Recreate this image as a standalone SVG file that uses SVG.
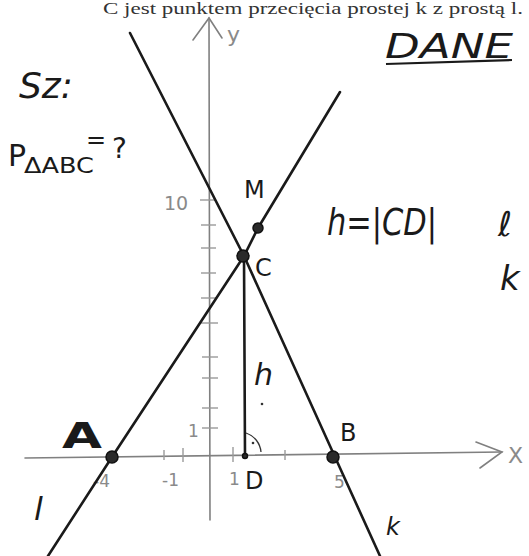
<svg xmlns="http://www.w3.org/2000/svg" width="529" height="556" viewBox="0 0 529 556">
<style>
.hand{font-family:"DejaVu Sans","Liberation Sans",sans-serif;fill:#1a1a1a}
.gray{font-family:"DejaVu Sans","Liberation Sans",sans-serif;fill:#8a8a8a}
.axis{stroke:#808080;stroke-width:1.6;fill:none;stroke-linecap:round}
.tick{stroke:#9a9a9a;stroke-width:1.4;fill:none}
.line{stroke:#1a1a1a;stroke-width:2.6;fill:none;stroke-linecap:round;stroke-linejoin:round}
.pt{fill:#2a2a2a;stroke:#111;stroke-width:1.5}
</style>
<rect width="529" height="556" fill="#ffffff"/>
<text x="103" y="14" font-family="Liberation Serif, serif" font-size="17" fill="#333" textLength="420" lengthAdjust="spacingAndGlyphs">C jest punktem przecięcia prostej k z prostą l.</text>

<g id="axes">
  <path class="axis" d="M25 458 L502 452"/>
  <path class="axis" d="M476 442 L502 452 L480 468"/>
  <path class="axis" d="M210 520 L209 18"/>
  <path class="axis" d="M193 40 L209 18 L222 38"/>
  <g class="tick">
    <path d="M200 200 H216"/><path d="M201 225 H216"/><path d="M201 248 H216"/><path d="M201 273 H216"/>
    <path d="M201 298 H217"/><path d="M201 323 H218"/><path d="M202 357 H218"/><path d="M202 378 H218"/>
    <path d="M202 408 H218"/><path d="M202 428 H218"/>
    <path d="M183 448 V462"/><path d="M164 450 V460"/><path d="M233 447 V462"/><path d="M285 450 V460"/>
  </g>
  <text class="gray" x="227" y="42" font-size="22">y</text>
  <text class="gray" x="508" y="463" font-size="22">X</text>
  <text class="gray" x="164" y="210" font-size="19">10</text>
  <text class="gray" x="188" y="437" font-size="17">1</text>
  <text class="gray" x="93" y="487" font-size="17">-4</text>
  <text class="gray" x="162" y="486" font-size="17">-1</text>
  <text class="gray" x="229" y="485" font-size="17">1</text>
  <text class="gray" x="334" y="488" font-size="17">5</text>
</g>

<g id="connectors">
  <path id="line-l" class="line" d="M48 556 L112 457 L244 256 L258 228 L340 92"/>
  <path id="line-k" class="line" d="M130 33 L244 256 L335 457 L380 556"/>
  <path id="seg-CD" class="line" d="M244 256 L245 457" stroke-width="2.2"/>
  <path id="right-angle" d="M246 433 A22 22 0 0 1 261 452" fill="none" stroke="#333" stroke-width="1.3"/>
  <circle cx="253" cy="443" r="1.3" fill="#333"/>
  <circle cx="262" cy="404" r="1.3" fill="#333"/>
</g>

<g id="node-A">
  <circle class="pt" cx="112" cy="457" r="6"/>
  <text class="hand" x="62" y="448" font-size="36" font-weight="bold" textLength="40" lengthAdjust="spacingAndGlyphs">A</text>
</g>
<g id="node-B">
  <circle class="pt" cx="333" cy="457" r="6"/>
  <text class="hand" x="340" y="441" font-size="24">B</text>
</g>
<g id="node-C">
  <circle class="pt" cx="243" cy="256" r="6"/>
  <text class="hand" x="255" y="276" font-size="24">C</text>
</g>
<g id="node-M">
  <circle class="pt" cx="258" cy="228" r="5"/>
  <text class="hand" x="244" y="198" font-size="24">M</text>
</g>
<g id="node-D">
  <circle class="pt" cx="245" cy="456" r="2.5"/>
  <text class="hand" x="245" y="489" font-size="24">D</text>
</g>

<g id="labels">
  <text class="hand" x="19" y="98" font-size="36" font-style="italic">Sz:</text>
  <text class="hand" x="8" y="166" font-size="30">P</text>
  <text class="hand" x="24" y="173" font-size="22" textLength="70" lengthAdjust="spacingAndGlyphs">ΔABC</text>
  <text class="hand" x="86" y="148" font-size="24">=</text>
  <text class="hand" x="112" y="158" font-size="28">?</text>
  <text class="hand" x="385" y="58" font-size="34" font-style="italic" textLength="128" lengthAdjust="spacingAndGlyphs">DANE</text>
  <path d="M386 64 L512 60" stroke="#1a1a1a" stroke-width="2.2" fill="none"/>
  <text class="hand" x="327" y="235" font-size="38" font-style="italic" textLength="110" lengthAdjust="spacingAndGlyphs">h=|CD|</text>
  <text class="hand" x="498" y="236" font-size="34" font-style="italic">ℓ</text>
  <text class="hand" x="500" y="290" font-size="34" font-style="italic">k</text>
  <text class="hand" x="254" y="385" font-size="30" font-style="italic">h</text>
  <text class="hand" x="34" y="520" font-size="32" font-style="italic">l</text>
  <text class="hand" x="386" y="535" font-size="24" font-style="italic">k</text>
</g>
</svg>
